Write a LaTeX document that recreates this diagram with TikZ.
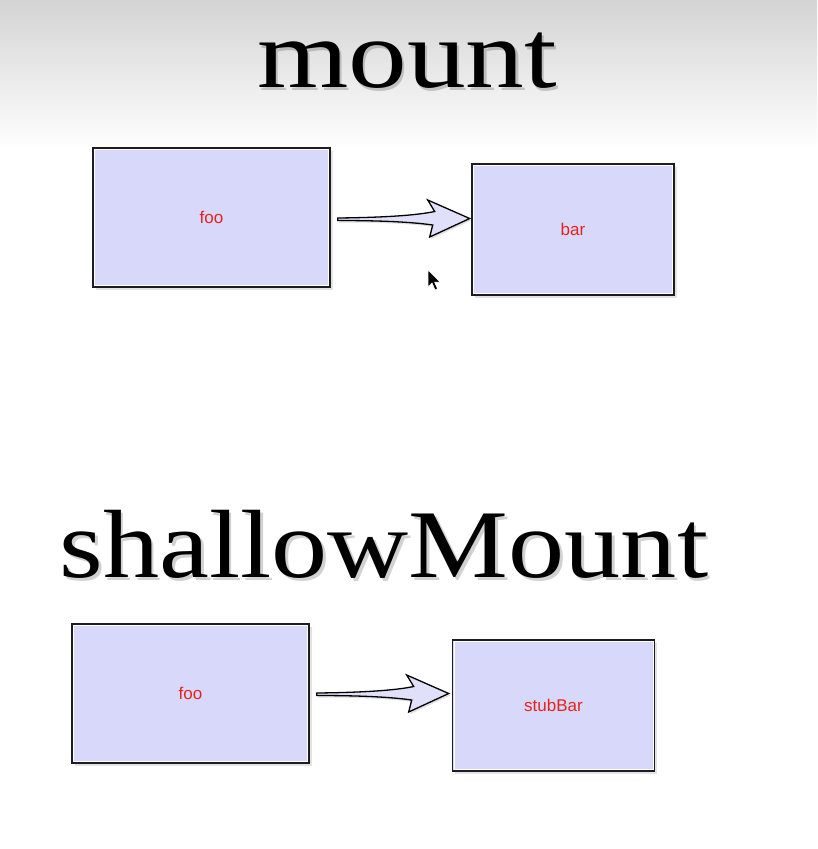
\documentclass[tikz,border=0pt]{standalone}
\usepackage{fontspec}
\setmainfont{Liberation Serif}
\newfontfamily\titlefontA[FakeStretch=1.21]{Liberation Serif}
\newfontfamily\titlefontB[FakeStretch=1.157]{Liberation Serif}
\newfontfamily\labelfont{Liberation Sans}
\usetikzlibrary{shadows,calc,fadings}
\definecolor{boxfill}{RGB}{216,216,250}
\definecolor{labelred}{RGB}{228,36,28}
\definecolor{edgecol}{RGB}{28,28,34}
\tikzset{
  box/.style={draw=edgecol, line width=1.4pt, fill=boxfill, inner sep=0pt,
    drop shadow={shadow xshift=2.5pt, shadow yshift=-2.5pt, opacity=0.22},
    font=\labelfont\fontsize{17}{17}\selectfont, text=labelred},
  titletext/.style={anchor=base, inner sep=0pt},
  titleshadow/.style={anchor=base, inner sep=0pt, text=black, opacity=0.18},
  arrowbody/.style={draw=black, line width=1.3pt, line join=miter, fill=boxfill!80!white,
    drop shadow={shadow xshift=1.5pt, shadow yshift=-2pt, opacity=0.25}},
  fatarrow/.pic={
    \path[arrowbody] (0,0) .. controls (45,-0.5) and (78,-2.5) .. (97,-6.5)
      -- (90,-18) -- (132,0.5) -- (92,19) -- (95,7)
      .. controls (74,4) and (43,2.5) .. (0,2.5) -- cycle;
  }
}
\begin{document}
\begin{tikzpicture}[x=1pt,y=-1pt]
\useasboundingbox (0,0) rectangle (817,849);
% background
\fill[white] (0,0) rectangle (817,849);
\shade[top color=black!17, bottom color=white] (0,0) rectangle (817,150);

% titles with soft drop shadow
\node[titleshadow, font=\titlefontA\fontsize{97}{97}\selectfont] at (409.5,90) {mount};
\node[titletext, font=\titlefontA\fontsize{97}{97}\selectfont] (t1) at (407,87) {mount};
\node[titleshadow, font=\titlefontB\fontsize{97}{97}\selectfont] at (386.5,580) {shallowMount};
\node[titletext, font=\titlefontB\fontsize{97}{97}\selectfont] (t2) at (384,577) {shallowMount};

% boxes
\node[box, minimum width=237pt, minimum height=139pt] (foo1) at (211.5,217.5) {foo};
\node[box, minimum width=202pt, minimum height=131pt] (bar) at (573,229.5) {bar};
\node[box, minimum width=237pt, minimum height=139pt] (foo2) at (190.5,693.5) {foo};
\node[box, minimum width=202pt, minimum height=131pt] (stub) at (553.5,705.5) {stubBar};

% inner highlights
\foreach \b in {foo1,bar,foo2,stub}{
  \draw[white, line width=0.7pt] ($(\b.north west)+(2.2,2.2)$) rectangle ($(\b.south east)+(-2.2,-2.2)$);
}

% arrows
\pic at ($(foo1.east)+(7,0.5)$) {fatarrow};
\pic at ($(foo2.east)+(7,-0.5)$) {fatarrow};

% mouse cursor
\draw[fill=black, draw=white, line width=0.6pt, line join=miter]
  (428,270) -- ++(0,17) -- ++(4,-4) -- ++(3,7) -- ++(2.6,-1.1) -- ++(-3,-6.8) -- ++(5.6,0) -- cycle;
\end{tikzpicture}
\end{document}
